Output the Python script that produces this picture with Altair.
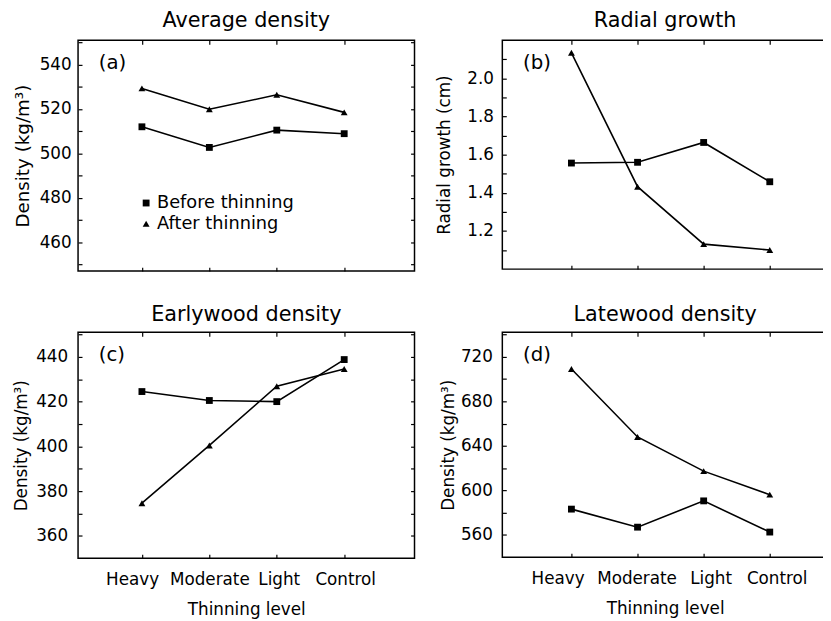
import altair as alt
import pandas as pd

levels = ["Heavy", "Moderate", "Light", "Control"]
series_names = ["Before thinning", "After thinning"]

avg_before = [512.0, 502.7, 510.5, 508.9]
avg_after = [529.3, 519.9, 526.4, 518.5]
rad_before = [1.556, 1.560, 1.664, 1.458]
rad_after = [2.134, 1.432, 1.131, 1.100]
early_before = [424.5, 420.5, 420.0, 438.8]
early_after = [374.6, 400.4, 426.9, 434.6]
late_before = [583.2, 567.0, 590.6, 562.6]
late_after = [709.0, 648.0, 617.3, 596.2]

a_ticks = [450, 460, 470, 480, 490, 500, 510, 520, 530, 540, 550]
a_labels = [460, 480, 500, 520, 540]
b_ticks = [1.1, 1.2, 1.3, 1.4, 1.5, 1.6, 1.7, 1.8, 1.9, 2.0, 2.1]
b_labels = [1.2, 1.4, 1.6, 1.8, 2.0]
c_ticks = [360, 370, 380, 390, 400, 410, 420, 430, 440, 450]
c_labels = [360, 380, 400, 420, 440]
d_ticks = [560, 580, 600, 620, 640, 660, 680, 700, 720, 740]
d_labels = [560, 600, 640, 680, 720]

FONT = "DejaVu Sans"


def panel(title, letter, before, after, ydom, yticks, ylabels, yfmt, ytitle,
          bottom_labels, w, h, pad, align, show_legend, right_ticks,
          ylp, ytp, ytfs, toff, xoffs):
    df = pd.DataFrame({
        "level": levels * 2,
        "series": [series_names[0]] * 4 + [series_names[1]] * 4,
        "value": list(before) + list(after),
    })
    xscale = alt.Scale(type="point", domain=levels, padding=pad, align=align)
    yscale = alt.Scale(domain=ydom, nice=False, zero=False)
    cond = " || ".join(f"abs(datum.value - {v}) < 1e-6" for v in ylabels)
    label_expr = f"({cond}) ? datum.label : ''"

    xoff_cond = [{"test": f"datum.value === '{lv}'", "value": o}
                 for lv, o in zip(levels, xoffs) if o != 0]
    x_main_axis = alt.Axis(
        orient="bottom", labels=bottom_labels, ticks=False, tickSize=0, domain=False,
        grid=False, labelAngle=0, labelPadding=14, labelFontSize=17,
        labelOffset={"condition": xoff_cond, "value": 0},
        title="Thinning level" if bottom_labels else None,
        titlePadding=14, titleFontSize=17, titleFontWeight="normal",
    )
    y_main_axis = alt.Axis(
        orient="left", values=yticks, labelExpr=label_expr, format=yfmt,
        ticks=False, tickSize=0, domain=False, grid=False, labelPadding=ylp,
        labelFontSize=17, title=ytitle, titlePadding=ytp, titleFontSize=ytfs,
        titleFontWeight="normal",
    )

    def tick_axis(orient, values=None):
        kw = dict(orient=orient, offset=-4, tickSize=4, tickWidth=1.2, tickColor="black",
                  labels=False, domain=False, grid=False, title=None)
        if values is not None:
            kw["values"] = values
        return alt.Axis(**kw)

    base = alt.Chart(df)
    lines = base.mark_line(color="black", strokeWidth=1.6).encode(
        x=alt.X("level:N", scale=xscale, sort=levels, axis=x_main_axis),
        y=alt.Y("value:Q", scale=yscale, axis=y_main_axis),
        detail="series:N",
    )
    if show_legend:
        legend = alt.Legend(
            orient="none", legendX=60, legendY=156, title=None, labelFontSize=18,
            labelFont=FONT, symbolFillColor="black", symbolStrokeColor="black",
            symbolSize=48, labelOffset=2, rowPadding=3, labelColor="black", padding=0,
        )
    else:
        legend = None
    points = base.mark_point(filled=True, color="black", size=48, opacity=1).encode(
        x=alt.X("level:N", scale=xscale, sort=levels, axis=tick_axis("bottom")),
        y=alt.Y("value:Q", scale=yscale, axis=tick_axis("left", yticks)),
        shape=alt.Shape("series:N",
                        scale=alt.Scale(domain=series_names, range=["square", "triangle-up"]),
                        sort=series_names, legend=legend),
    )
    ghost = base.mark_point(opacity=0).encode(
        x=alt.X("level:N", scale=xscale, sort=levels, axis=tick_axis("top")),
        y=alt.Y("value:Q", scale=yscale,
                axis=tick_axis("right", yticks) if right_ticks else None),
    )
    label = alt.Chart(pd.DataFrame({"t": [letter]})).mark_text(
        align="left", baseline="middle", fontSize=20, font=FONT, color="black"
    ).encode(x=alt.value(21), y=alt.value(23), text="t:N")

    return alt.layer(lines, points, ghost, label).resolve_axis(
        x="independent", y="independent"
    ).properties(
        width=w, height=h,
        title=alt.TitleParams(title, fontSize=21, fontWeight="normal", font=FONT,
                              anchor="middle", offset=toff, color="black"),
    )


pa = panel("Average density", "(a)", avg_before, avg_after, [447, 551], a_ticks, a_labels,
           "d", "Density (kg/m³)", False, 341, 234, 0.995, 0.476, True, True,
           7, 7.2, 18.5, 9, [0, 0, 0, 0])
pb = panel("Radial growth", "(b)", rad_before, rad_after, [1.0, 2.2], b_ticks, b_labels,
           ".1f", "Radial growth (cm)", False, 330, 232, 0.9625, 0.543, False, False,
           9, 13, 17, 9, [0, 0, 0, 0])
pc = panel("Earlywood density", "(c)", early_before, early_after, [350, 451], c_ticks, c_labels,
           "d", "Density (kg/m³)", True, 341, 229, 0.995, 0.476, False, True,
           10.5, 5.1, 17, 7, [-10, 0, 2, 1])
pd_ = panel("Latewood density", "(d)", late_before, late_after, [540, 742], d_ticks, d_labels,
            "d", "Density (kg/m³)", True, 330, 228, 0.9625, 0.543, False, False,
            10, 3.3, 17, 7, [-14, -1, 7, 7])

chart = alt.concat(pa, pb, pc, pd_, columns=2, spacing={"row": 30, "column": 19}).resolve_scale(
    shape="independent"
).resolve_legend(shape="independent").properties(
    padding={"left": 4, "top": -3.5, "right": -6, "bottom": 0}
).configure(font=FONT).configure_view(
    stroke="black", strokeWidth=1.5
).configure_axis(
    labelColor="black", titleColor="black", labelFont=FONT, titleFont=FONT
)

chart.save("out.html", embed_options={"renderer": "svg", "actions": False})
